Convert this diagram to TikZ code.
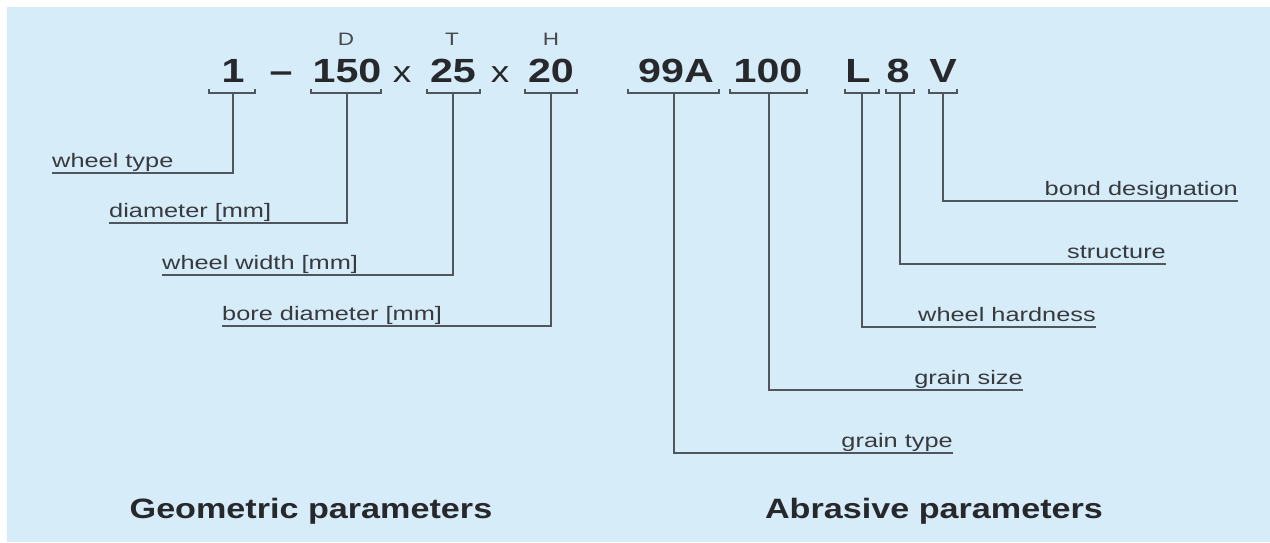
\documentclass[tikz,border=0pt]{standalone}
\usepackage{fontspec}
\setmainfont{Liberation Sans}
\usepackage{graphicx}
\definecolor{bgblue}{RGB}{214,236,249}
\definecolor{linegray}{RGB}{80,86,94}
\definecolor{numcol}{RGB}{38,40,44}
\definecolor{dimcol}{RGB}{70,72,76}
\definecolor{lblcol}{RGB}{55,58,62}
\newcommand\stretchtxt[2]{\scalebox{#1}[1]{#2}}
\begin{document}
\begin{tikzpicture}[x=1pt,y=-1pt,
  conn/.style={draw=linegray,line width=1.8pt},
  num/.style={anchor=base,inner sep=0pt,text=numcol,font=\fontsize{33.5}{36}\selectfont\bfseries},
  dimlbl/.style={anchor=base,inner sep=0pt,text=dimcol,font=\fontsize{18}{20}\selectfont},
  lbl/.style={inner sep=0pt,text=lblcol,font=\fontsize{19.5}{22}\selectfont},
  grp/.style={anchor=base,inner sep=0pt,text=numcol,font=\fontsize{28}{30}\selectfont\bfseries}]
\useasboundingbox (0,0) rectangle (1270,542);
\fill[bgblue] (7,7) rectangle (1270,542);
% designation numbers
\node[num] (n1)   at (233,82) {\stretchtxt{1.23}{1}};
\node[num] (dsh)  at (281,82) {\stretchtxt{1.23}{–}};
\node[num] (n150) at (347,82) {\stretchtxt{1.23}{150}};
\node[num,font=\fontsize{30}{32}\selectfont] (x1) at (402,82) {\stretchtxt{1.23}{x}};
\node[num] (n25)  at (453,82) {\stretchtxt{1.23}{25}};
\node[num,font=\fontsize{30}{32}\selectfont] (x2) at (500,82) {\stretchtxt{1.23}{x}};
\node[num] (n20)  at (551,82) {\stretchtxt{1.23}{20}};
\node[num] (n99)  at (676,82) {\stretchtxt{1.23}{99A}};
\node[num] (n100) at (768,82) {\stretchtxt{1.23}{100}};
\node[num] (nL)   at (858,82) {\stretchtxt{1.23}{L}};
\node[num] (n8)   at (898,82) {\stretchtxt{1.23}{8}};
\node[num] (nV)   at (943,82) {\stretchtxt{1.23}{V}};
% dimension letters
\node[dimlbl] (dD) at (346,45) {\stretchtxt{1.25}{D}};
\node[dimlbl] (dT) at (452,45) {\stretchtxt{1.25}{T}};
\node[dimlbl] (dH) at (551,45) {\stretchtxt{1.25}{H}};
% brackets
\foreach \a/\b/\c/\n in {209/255/233/1, 311/381/347/150, 427/480/453/25, 525/577/551/20,
    628/719/674/99, 730/807/769/100, 845/879/862/L, 886/914/900/8, 929/957/943/V}{
  \draw[conn] (\a,89) -- (\a,93) -- (\b,93) -- (\b,89);
  \coordinate (b\n) at (\c,93);
}
% left labels
\node[lbl,anchor=base west] (lwt) at (52,167)  {\stretchtxt{1.3}{wheel type}};
\node[lbl,anchor=base west] (ldi) at (109,217) {\stretchtxt{1.3}{diameter [mm]}};
\node[lbl,anchor=base west] (lww) at (162,269) {\stretchtxt{1.3}{wheel width [mm]}};
\node[lbl,anchor=base west] (lbd) at (222,320) {\stretchtxt{1.3}{bore diameter [mm]}};
\coordinate (c1) at (233,173);
\coordinate (c150) at (347,223);
\coordinate (c25) at (453,275);
\coordinate (c20) at (551,326);
\draw[conn] (b1) -- (c1) -- (lwt.base west |- c1);
\draw[conn] (b150) -- (c150) -- (ldi.base west |- c150);
\draw[conn] (b25) -- (c25) -- (lww.base west |- c25);
\draw[conn] (b20) -- (c20) -- (lbd.base west |- c20);
% right labels
\node[lbl,anchor=base east] (lbo) at (1238,195) {\stretchtxt{1.3}{bond designation}};
\node[lbl,anchor=base east] (lst) at (1166,258) {\stretchtxt{1.3}{structure}};
\node[lbl,anchor=base east] (lwh) at (1096,321) {\stretchtxt{1.3}{wheel hardness}};
\node[lbl,anchor=base east] (lgs) at (1023,384) {\stretchtxt{1.3}{grain size}};
\node[lbl,anchor=base east] (lgt) at (953,447)  {\stretchtxt{1.3}{grain type}};
\coordinate (cV) at (943,201);
\coordinate (c8) at (900,264);
\coordinate (cL) at (862,327);
\coordinate (c100) at (769,390);
\coordinate (c99) at (674,453);
\draw[conn] (bV) -- (cV) -- (lbo.base east |- cV);
\draw[conn] (b8) -- (c8) -- (lst.base east |- c8);
\draw[conn] (bL) -- (cL) -- (lwh.base east |- cL);
\draw[conn] (b100) -- (c100) -- (lgs.base east |- c100);
\draw[conn] (b99) -- (c99) -- (lgt.base east |- c99);
% group titles
\node[grp] (geo) at (311,518) {\stretchtxt{1.22}{Geometric parameters}};
\node[grp] (abr) at (934,518) {\stretchtxt{1.22}{Abrasive parameters}};
\end{tikzpicture}
\end{document}
